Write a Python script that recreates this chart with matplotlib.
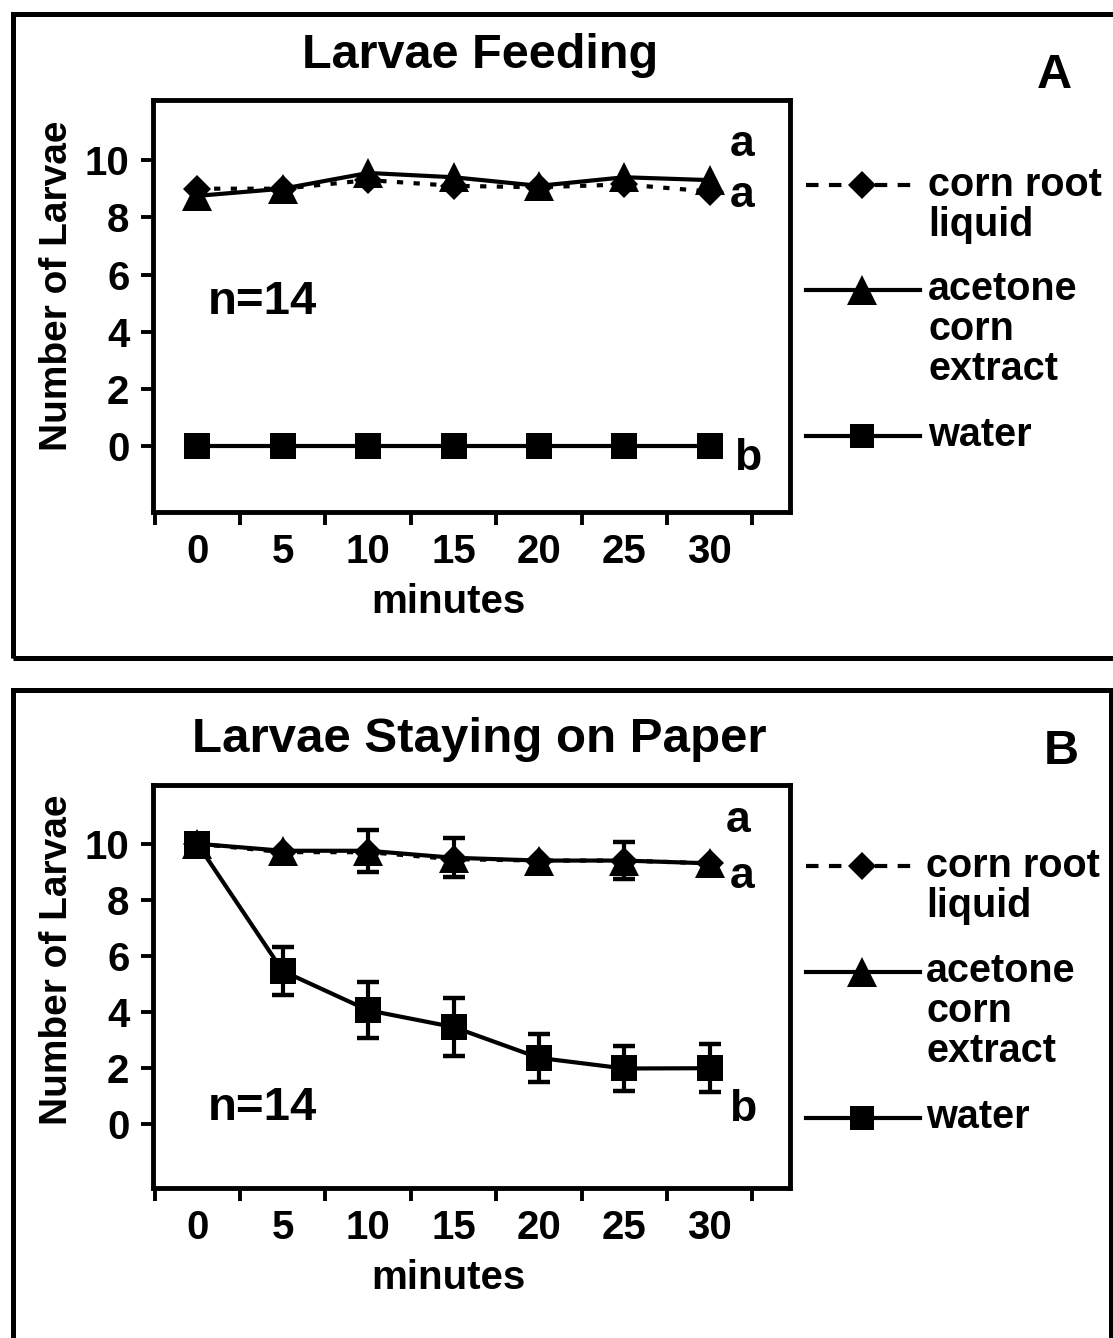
import numpy as np
import matplotlib
matplotlib.use("Agg")
import matplotlib.pyplot as plt
from matplotlib.lines import Line2D
from matplotlib.patches import Rectangle

plt.rcParams['font.family'] = ['Liberation Sans', 'DejaVu Sans']
plt.rcParams['font.weight'] = 'bold'
plt.rcParams['axes.labelweight'] = 'bold'

minutes = [0, 5, 10, 15, 20, 25, 30]

# A: larvae feeding
feed_corn_root = [9.0, 9.0, 9.3, 9.1, 9.05, 9.15, 8.9]
feed_acetone = [8.75, 9.0, 9.55, 9.4, 9.1, 9.4, 9.3]
feed_water = [0, 0, 0, 0, 0, 0, 0]

# B: larvae staying on paper
stay_corn_root = [10, 9.7, 9.7, 9.45, 9.4, 9.4, 9.3]
stay_acetone = [10, 9.75, 9.75, 9.5, 9.4, 9.4, 9.3]
stay_acetone_err = [0, 0, 0.75, 0.7, 0, 0.65, 0]
stay_water = [10, 5.45, 4.05, 3.45, 2.35, 1.97, 1.98]
stay_water_err = [0, 0.85, 1.0, 1.05, 0.85, 0.8, 0.85]

yticks = [0, 2, 4, 6, 8, 10]
legend_labels = [["corn root", "liquid"], ["acetone", "corn", "extract"], ["water"]]
sig_letters = ["a", "a", "b"]

W, H = 1113, 1338


def fx(px):
    return px / W


def fy(py):
    return 1 - py / H


corn_style = dict(color='black', ls=(0, (1.5, 2.5)), lw=3, marker='D', ms=14, mew=0)
acet_style = dict(color='black', ls='-', lw=3, marker='^', ms=21, mew=0)
water_style = dict(color='black', ls='-', lw=3, marker='s', ms=18.5, mew=0)

fig = plt.figure(figsize=(W / 100, H / 100), dpi=100)

# panel frames
for (x0, y0, x1, y1) in [(13, 14, 1130, 658), (13, 690, 1111, 1360)]:
    fig.add_artist(Rectangle((fx(x0), fy(y1)), fx(x1) - fx(x0), fy(y0) - fy(y1),
                             transform=fig.transFigure, fill=False, lw=3.6,
                             ec='black', clip_on=False))


def make_axes(top, bottom):
    ax = fig.add_axes([fx(153), fy(bottom), fx(790) - fx(153), fy(top) - fy(bottom)])
    ax.set_xlim(-2.6, 34.7)
    ax.set_ylim(-2.3, 12.1)
    ax.set_xticks(minutes)
    ax.set_xticks([m - 2.5 for m in minutes] + [minutes[-1] + 2.5], minor=True)
    ax.set_yticks(yticks)
    ax.tick_params(axis='x', which='major', length=0, pad=15, labelsize=29)
    ax.tick_params(axis='x', which='minor', length=9, width=2.8, direction='out')
    ax.tick_params(axis='y', length=9, width=2.8, pad=8, labelsize=29)
    for sp in ax.spines.values():
        sp.set_linewidth(3.5)
    ax.set_xlabel('minutes', fontsize=29)
    ax.set_ylabel('Number of Larvae', fontsize=28)
    return ax


# ---- panel A ----
axA = make_axes(100, 512)
axA.plot(minutes, feed_corn_root, **corn_style, zorder=3)
axA.plot(minutes, feed_acetone, **acet_style, zorder=4)
axA.plot(minutes, feed_water, **water_style, zorder=4)
axA.xaxis.set_label_coords(0.463, -0.218)
axA.xaxis.label.set_va('center')
axA.yaxis.set_label_coords(-0.15, 0.55)
axA.yaxis.label.set_va('center')
axA.text(0.171, 0.51, 'n=14', transform=axA.transAxes, fontsize=34,
         ha='center', va='center')
for (lx, ly), s in zip([(0.925, 0.891), (0.925, 0.769), (0.934, 0.131)], sig_letters):
    axA.text(lx, ly, s, transform=axA.transAxes, fontsize=32, ha='center', va='center')

# ---- panel B ----
axB = make_axes(785, 1188)
mask_a = np.array(stay_acetone_err) > 0
mask_w = np.array(stay_water_err) > 0
axB.errorbar(minutes, stay_acetone, yerr=stay_acetone_err, fmt='none', ecolor='black',
             elinewidth=3, capsize=8, capthick=3.2, errorevery=mask_a, zorder=2)
axB.errorbar(minutes, stay_water, yerr=stay_water_err, fmt='none', ecolor='black',
             elinewidth=3, capsize=8, capthick=3.2, errorevery=mask_w, zorder=2)
axB.plot(minutes, stay_corn_root, **corn_style, zorder=3)
axB.plot(minutes, stay_acetone, **acet_style, zorder=4)
axB.plot(minutes, stay_water, **water_style, zorder=5)
axB.xaxis.set_label_coords(0.463, -0.223)
axB.xaxis.label.set_va('center')
axB.yaxis.set_label_coords(-0.15, 0.566)
axB.yaxis.label.set_va('center')
axB.text(0.171, 0.199, 'n=14', transform=axB.transAxes, fontsize=34,
         ha='center', va='center')
for (lx, ly), s in zip([(0.918, 0.913), (0.925, 0.772), (0.925, 0.194)], sig_letters):
    axB.text(lx, ly, s, transform=axB.transAxes, fontsize=32, ha='center', va='center')

# titles and panel letters
fig.text(fx(480), fy(55), 'Larvae Feeding', fontsize=35, ha='center', va='center')
fig.text(fx(479), fy(740), 'Larvae Staying on Paper', fontsize=35.5, ha='center', va='center')
fig.text(fx(1054), fy(75), 'A', fontsize=35, ha='center', va='center')
fig.text(fx(1061), fy(752), 'B', fontsize=35, ha='center', va='center')


# legends (drawn by hand to the right of each plot)
def draw_legend(line_ys, text_x, first_baselines):
    legend_styles = [
        dict(ls=(0, (3, 2.5)), marker='D', ms=14),
        dict(ls='-', marker='^', ms=21),
        dict(ls='-', marker='s', ms=17),
    ]
    for ly, st, lines, b0 in zip(line_ys, legend_styles, legend_labels, first_baselines):
        fig.add_artist(Line2D([fx(806), fx(862), fx(920)], [fy(ly)] * 3,
                              transform=fig.transFigure, color='black', lw=3,
                              markevery=[1], mew=0, **st))
        for i, s in enumerate(lines):
            fig.text(fx(text_x), fy(b0 + 40 * i), s, fontsize=28.5,
                     ha='left', va='baseline')


draw_legend([185, 290, 436], 928, [196, 300, 446])
draw_legend([866, 972, 1118], 926, [877, 982, 1128])

fig.savefig('out.png', dpi=100)
